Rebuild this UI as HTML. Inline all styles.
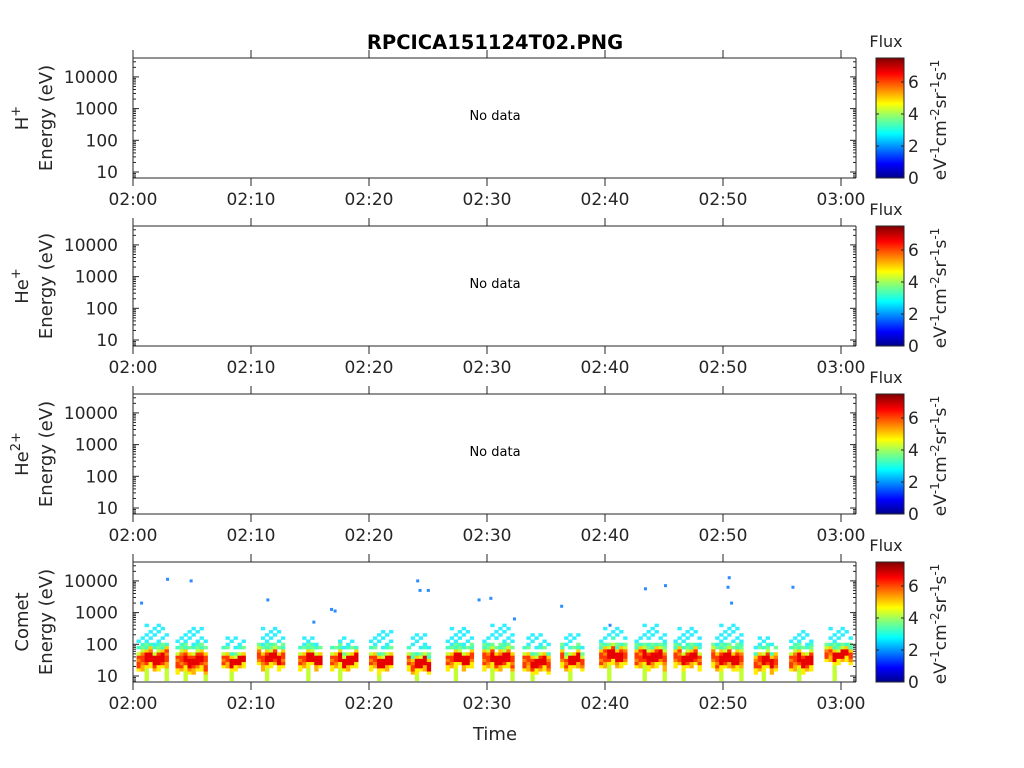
<!DOCTYPE html>
<html><head><meta charset="utf-8"><style>
html,body{margin:0;padding:0;background:#fff;}
svg{display:block;font-family:"DejaVu Sans","Liberation Sans",sans-serif;}
</style></head><body>
<svg id="chart" width="1024" height="768" viewBox="0 0 1024 768" xmlns="http://www.w3.org/2000/svg">
<defs>
<linearGradient id="jet" x1="0" y1="1" x2="0" y2="0">
<stop offset="0" stop-color="#00008f"/><stop offset="0.12" stop-color="#0000ff"/>
<stop offset="0.37" stop-color="#00ffff"/><stop offset="0.5" stop-color="#7fff7f"/>
<stop offset="0.62" stop-color="#ffff00"/><stop offset="0.87" stop-color="#ff0000"/>
<stop offset="1" stop-color="#800000"/></linearGradient>
</defs>
<text x="495" y="49" text-anchor="middle" font-size="19.5" font-weight="bold">RPCICA151124T02.PNG</text>
</svg>
<script>
// Comet blobs: [startMin, endMin, cyanTopLogE, coreLowLogE, coreHighLogE]
const blobStart = [0.3, 3.6, 7.5, 10.5, 14.0, 16.7, 20.0, 23.2, 26.5, 29.6, 33.0, 36.2, 39.5, 42.5, 45.8, 49.0, 52.6, 55.6, 58.6];
const blobEnd   = [2.9, 6.0, 9.5, 12.7, 15.9, 19.0, 22.0, 25.1, 28.6, 32.1, 35.2, 38.0, 41.7, 44.9, 48.0, 51.5, 54.4, 57.6, 60.8];
const blobTop   = [2.6, 2.5, 2.2, 2.5, 2.2, 2.2, 2.4, 2.3, 2.5, 2.6, 2.3, 2.3, 2.5, 2.6, 2.5, 2.6, 2.2, 2.4, 2.5];
const blobCoreLo= [1.3, 1.2, 1.3, 1.35, 1.35, 1.3, 1.25, 1.2, 1.35, 1.3, 1.2, 1.3, 1.4, 1.35, 1.35, 1.3, 1.25, 1.25, 1.5];
const blobCoreHi= [1.7, 1.65, 1.55, 1.7, 1.65, 1.6, 1.55, 1.5, 1.65, 1.7, 1.55, 1.6, 1.8, 1.75, 1.7, 1.7, 1.6, 1.65, 1.75];
const sparsePts = [[0.6,3.3],[2.8,4.05],[4.8,4.0],[11.3,3.4],[15.2,2.7],[16.7,3.1],[17.0,3.05],[24.0,4.0],[24.2,3.7],[24.9,3.7],[29.2,3.4],[30.2,3.45],[32.2,2.8],[36.2,3.2],[40.3,2.6],[43.3,3.75],[45.0,3.85],[50.4,4.1],[50.3,3.8],[50.6,3.3],[55.8,3.8]];
const xTicks = ["02:00","02:10","02:20","02:30","02:40","02:50","03:00"];
const yTicks = [10,100,1000,10000];
const cTicks = [0,2,4,6];
const panelNames = [["H","+"],["He","+"],["He","2+"],["Comet",""]];

const NS="http://www.w3.org/2000/svg";
const svg=document.getElementById('chart');
function el(tag,attrs,parent){const e=document.createElementNS(NS,tag);for(const k in attrs)e.setAttribute(k,attrs[k]);(parent||svg).appendChild(e);return e;}
const X0=133,X1=856,PXMIN=11.8;
const xs=m=>X0+m*PXMIN;
const panelTops=[58,226,394,562], PH=120;
function ys(top,logE){return top+PH-6-(logE-1)*31.7;}

panelNames.forEach((pn,i)=>{
  const top=panelTops[i], bot=top+PH;
  const g=el('g',{});
  
  
  if(i===3){
    const dg=el('g',{},g);
    
    
    blobStart.forEach((s,b)=>{
      const e=blobEnd[b];
      for(let t=s,c=0;t<e;t+=0.34,c++){
        const shift=((c*5+b)%4-1.5)*0.05;
        const tfrac=(t-s)/(e-s);
        for(let L=0.85,r=0;L<blobTop[b];L+=0.1,r++){
          let col=null;
          const lo=blobCoreLo[b]+shift,hi=blobCoreHi[b]+shift;
          const mid=(lo+hi)/2;
          const topLim=blobTop[b]-(tfrac<0.15||tfrac>0.85?0.3:0);
          if(L>topLim)continue;
          if(L>=lo&&L<hi){col=(Math.abs(L-mid)<0.14&&tfrac>0.2&&tfrac<0.9)?'#e80000':((c+r)%3===0?'#ff8000':'#ff3800');}
          else if(L>=hi&&L<hi+0.1){col=(c+r)%2?'#ffd000':'#c8ff30';}
          else if(L>=hi+0.1&&L<hi+0.3){col=(c*3+r)%3===0?null:((c+r)%2?'#70ff90':'#40ffc0');}
          else if(L>=hi+0.3){col=((c*7+r*3)%5<2)?'#30f0ff':null;}
          else if(L>=lo-0.15&&L<lo){col=(c%3===1)?'#ffb000':'#ffee00';}
          else if(L<lo-0.15){col=(c%5===2)?'#c0ff30':null;}
          if(!col)continue;
          const y1=ys(top,L+0.1),y2=ys(top,L);
          const rc=el('rect',{x:xs(t),y:Math.max(y1,top),width:0.34*PXMIN+0.3,height:Math.min(y2,bot)-Math.max(y1,top)+0.3,fill:col},dg);
          
          
        }
      }
    });
    sparsePts.forEach(p=>{
      const r=el('rect',{x:xs(p[0]),y:ys(top,p[1])-1.5,width:3,height:3,fill:'#2a8cff'},dg);
      
      
    });
  } else {
    const nd=el('text',{x:495,y:top+62,'text-anchor':'middle','font-size':13},g);
    nd.textContent='No data';
    
    
  }
  const ax=el('g',{stroke:'#262626','stroke-width':1,fill:'none'},g);
  
  
  el('line',{x1:X0,y1:top-8,x2:X0,y2:bot+8},ax);
  el('line',{x1:X1,y1:top,x2:X1,y2:bot},ax);
  el('line',{x1:X0,y1:top,x2:X1,y2:top},ax);
  el('line',{x1:X0,y1:bot,x2:X1,y2:bot},ax);
  xTicks.forEach((lab,k)=>{
    const x=xs(k*10);
    el('line',{x1:x,y1:top-8,x2:x,y2:top},ax);
    el('line',{x1:x,y1:bot,x2:x,y2:bot+8},ax);
    const t=el('text',{x:x,y:bot+27,'text-anchor':'middle','font-size':17,fill:'#262626',stroke:'none'},g);
    t.textContent=lab;
    
    
  });
  for(let d=0;d<5;d++){for(let m=1;m<10;m++){
    const L=d+Math.log10(m);const y=ys(top,L);
    if(y<top||y>bot)continue;
    const len=m===1?6:3;
    el('line',{x1:X0,y1:y,x2:X0+len,y2:y},ax);
    el('line',{x1:X1,y1:y,x2:X1-len,y2:y},ax);
  }}
  yTicks.forEach(v=>{
    const t=el('text',{x:X0-15,y:ys(top,Math.log10(v))+6,'text-anchor':'end','font-size':17,fill:'#262626'},g);
    t.textContent=v;
    
    
  });
  const yl=el('text',{transform:`translate(40,${top+60}) rotate(-90)`,'text-anchor':'middle','font-size':18,fill:'#262626'},g);
  yl.innerHTML=`<tspan x="0" dy="-12">${pn[0]}<tspan font-size="13" dy="-8">${pn[1]}</tspan></tspan><tspan x="0" dy="${pn[1]?32:24}">Energy (eV)</tspan>`;
  
  
  const cb=el('g',{},g);
  
  
  el('rect',{x:876,y:top,width:28,height:PH,fill:'url(#jet)',stroke:'#262626','stroke-width':1},cb);
  cTicks.forEach(v=>{
    const y=bot-v*16;
    el('line',{x1:876,y1:y,x2:879,y2:y,stroke:'#262626'},cb);
    el('line',{x1:904,y1:y,x2:901,y2:y,stroke:'#262626'},cb);
    const t=el('text',{x:908,y:y+6,'font-size':17,fill:'#262626'},cb);
    t.textContent=v;
    
    
  });
  const fl=el('text',{x:886,y:top-11,'text-anchor':'middle','font-size':16,fill:'#262626'},cb);
  fl.textContent='Flux';
  
  
  const un=el('text',{transform:`translate(946,${top+62}) rotate(-90)`,'text-anchor':'middle','font-size':17,fill:'#262626'},cb);
  un.innerHTML='eV<tspan font-size="12" dy="-7">-1</tspan><tspan dy="7">cm</tspan><tspan font-size="12" dy="-7">-2</tspan><tspan dy="7">sr</tspan><tspan font-size="12" dy="-7">-1</tspan><tspan dy="7">s</tspan><tspan font-size="12" dy="-7">-1</tspan>';
  
  
});
const xt=el('text',{x:495,y:740,'text-anchor':'middle','font-size':18,fill:'#262626'});
xt.textContent='Time';


</script>
</body></html>
